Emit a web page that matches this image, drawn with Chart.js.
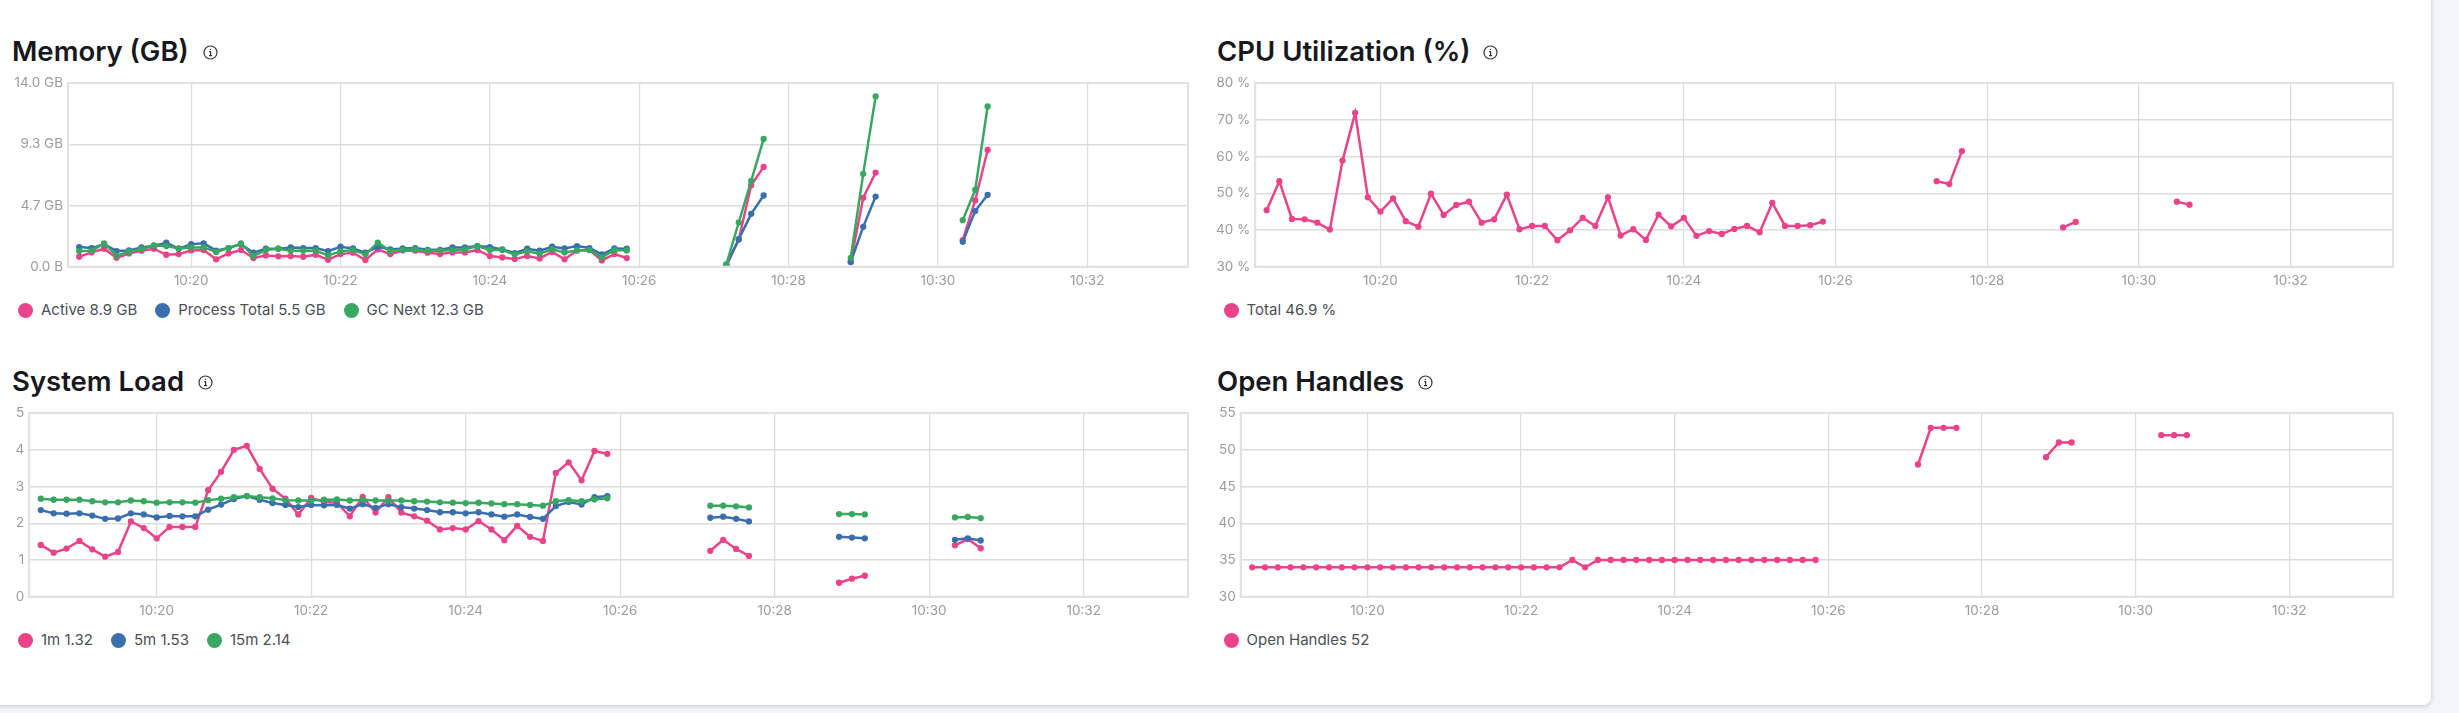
<!DOCTYPE html>
<html>
<head>
<meta charset="utf-8">
<title>Runtime metrics</title>
<script src="https://cdn.jsdelivr.net/npm/chart.js@4"></script>
<style>
  html, body { margin: 0; height: 100%; overflow: hidden; background: #f4f5fa; font-family: Inter, sans-serif; }
  #card { position: absolute; left: -20px; top: -20px; width: 2451px; height: 725px; background: #fff; border-radius: 8px; box-shadow: 0 1px 5px rgba(60,70,100,.25); }
  .title { position: absolute; font-size: 27.5px; font-weight: 600; color: #16181d; line-height: 30px; white-space: nowrap; }
  .info { position: absolute; width: 15px; height: 15px; }
  .legend { position: absolute; display: flex; font-size: 15px; color: #4b4f57; line-height: 16px; white-space: nowrap; }
  .legend span { display: flex; align-items: center; margin-right: 18px; }
  .legend i { width: 15px; height: 15px; border-radius: 50%; margin-right: 8px; }
  canvas { position: absolute; }
</style>
</head>
<body>
<div id="card"></div>
<script>
// sample times, the 10:26:00 / 10:28:00 / 10:30:00 rows are gaps in the scrape
const times = [
  '10:18:30','10:18:40','10:18:50','10:19:00','10:19:10','10:19:20','10:19:30','10:19:40','10:19:50',
  '10:20:00','10:20:10','10:20:20','10:20:30','10:20:40','10:20:50','10:21:00','10:21:10','10:21:20','10:21:30','10:21:40','10:21:50',
  '10:22:00','10:22:10','10:22:20','10:22:30','10:22:40','10:22:50','10:23:00','10:23:10','10:23:20','10:23:30','10:23:40','10:23:50',
  '10:24:00','10:24:10','10:24:20','10:24:30','10:24:40','10:24:50','10:25:00','10:25:10','10:25:20','10:25:30','10:25:40','10:25:50',
  '10:26:00',
  '10:27:10','10:27:20','10:27:30','10:27:40',
  '10:28:00',
  '10:28:50','10:29:00','10:29:10',
  '10:30:00',
  '10:30:20','10:30:30','10:30:40'
];

const memActive = [0.76,1.09,1.37,0.68,1.01,1.22,1.37,0.91,0.96,1.24,1.27,0.56,1.01,1.27,0.66,0.86,0.79,0.81,0.76,0.91,0.53,0.96,1.07,0.51,1.32,0.96,1.24,1.22,1.07,0.96,1.09,1.09,1.27,0.81,0.71,0.58,0.81,0.63,1.12,0.56,1.24,1.27,0.48,0.96,0.66,
  null, 0.05,2.08,6.21,7.61, null, 0.36,5.25,7.18, null, 2.03,5.05,8.90];
const memProcess = [1.50,1.42,1.72,1.19,1.24,1.47,1.60,1.83,1.37,1.72,1.78,1.22,1.42,1.72,1.07,1.37,1.37,1.47,1.42,1.42,1.19,1.52,1.39,1.07,1.52,1.32,1.39,1.42,1.29,1.29,1.47,1.47,1.57,1.50,1.32,1.04,1.37,1.22,1.52,1.39,1.57,1.42,0.94,1.39,1.37,
  null, 0.13,2.10,4.03,5.43, null, 0.36,3.04,5.35, null, 1.90,4.24,5.48];
const memGcNext = [1.19,1.22,1.78,0.84,1.14,1.34,1.62,1.57,1.39,1.47,1.47,1.12,1.42,1.78,0.81,1.27,1.37,1.22,1.22,1.22,0.86,1.17,1.27,0.94,1.83,1.19,1.29,1.32,1.22,1.22,1.27,1.32,1.57,1.27,1.27,0.94,1.17,0.99,1.32,1.09,1.24,1.27,0.71,1.27,1.24,
  null, 0.18,3.37,6.54,9.74, null, 0.68,7.08,12.98, null, 3.55,5.86,12.22];

const cpuTotal = [45.4,53.3,43.0,42.9,42.0,40.1,58.9,71.9,48.9,45.0,48.6,42.4,40.9,49.9,44.1,46.8,47.7,42.0,42.9,49.6,40.2,41.1,41.1,37.2,39.9,43.3,41.1,48.9,38.5,40.2,37.3,44.2,41.0,43.3,38.4,39.7,38.9,40.3,41.1,39.4,47.4,41.1,41.1,41.3,42.3,
  null, null,53.3,52.5,61.5, null, null,40.7,42.2, null, null,47.7,46.9];

const load1m = [1.41,1.20,1.31,1.52,1.29,1.09,1.22,2.05,1.87,1.59,1.90,1.90,1.90,2.90,3.40,4.00,4.11,3.48,2.94,2.67,2.24,2.69,2.58,2.56,2.19,2.72,2.29,2.71,2.29,2.19,2.07,1.83,1.87,1.83,2.06,1.83,1.54,1.93,1.63,1.52,3.37,3.66,3.17,3.97,3.89,
  null, 1.25,1.55,1.30,1.11, null, 0.38,0.49,0.57, null, 1.40,1.57,1.32];
const load5m = [2.36,2.27,2.26,2.27,2.21,2.12,2.13,2.27,2.24,2.16,2.20,2.19,2.19,2.37,2.51,2.66,2.74,2.64,2.55,2.50,2.44,2.50,2.49,2.50,2.40,2.52,2.42,2.52,2.44,2.40,2.36,2.30,2.30,2.27,2.30,2.24,2.18,2.24,2.17,2.12,2.47,2.58,2.51,2.71,2.74,
  null, 2.15,2.18,2.12,2.05, null, 1.63,1.61,1.59, null, 1.55,1.59,1.53];
const load15m = [2.67,2.64,2.64,2.64,2.60,2.57,2.57,2.62,2.60,2.56,2.57,2.57,2.56,2.63,2.67,2.71,2.74,2.71,2.68,2.63,2.62,2.62,2.64,2.65,2.62,2.64,2.62,2.62,2.62,2.60,2.59,2.57,2.56,2.55,2.56,2.54,2.52,2.52,2.50,2.48,2.60,2.63,2.60,2.65,2.68,
  null, 2.48,2.48,2.46,2.43, null, 2.25,2.25,2.24, null, 2.16,2.17,2.14];

const openHandles = [34,34,34,34,34,34,34,34,34,34,34,34,34,34,34,34,34,34,34,34,34,34,34,34,34,35,34,35,35,35,35,35,35,35,35,35,35,35,35,35,35,35,35,35,35,
  null, 48,53,53,53, null, 49,51,51, null, 52,52,52];

const memTicks = [0, 14 / 3, 28 / 3, 14];
const cpuTicks = [30, 40, 50, 60, 70, 80];
const loadTicks = [0, 1, 2, 3, 4, 5];
const handleTicks = [30, 35, 40, 45, 50, 55];

const pink = '#ea4389', blue = '#3a6fad', green = '#38a861';

function toSec(t) {
  const p = t.split(':').map(Number);
  return p[0] * 3600 + p[1] * 60 + (p[2] || 0);
}

function pad(n) { return String(n).padStart(2, '0'); }

function addText(cls, text, x, y) {
  const el = document.createElement('div');
  el.className = cls;
  el.textContent = text;
  el.style.left = x + 'px';
  el.style.top = y + 'px';
  document.body.appendChild(el);
}

function addInfo(x, y) {
  const el = document.createElement('div');
  el.className = 'info';
  el.style.left = (x - 7.5) + 'px';
  el.style.top = (y - 7.5) + 'px';
  el.innerHTML = '<svg width="15" height="15" viewBox="0 0 15 15" fill="none" stroke="#33363c"><circle cx="7.5" cy="7.5" r="6.5" stroke-width="1.2"/><path d="M6.2 6.6h1.4v3.8M6 10.6h3.1" stroke-width="1.2"/><circle cx="7.4" cy="4.4" r=".7" fill="#33363c" stroke="none"/></svg>';
  document.body.appendChild(el);
}

function addLegend(items, x, y) {
  const el = document.createElement('div');
  el.className = 'legend';
  el.style.left = x + 'px';
  el.style.top = y + 'px';
  items.forEach(it => {
    const s = document.createElement('span');
    const dot = document.createElement('i');
    dot.style.background = it[1];
    s.appendChild(dot);
    s.appendChild(document.createTextNode(it[0]));
    el.appendChild(s);
  });
  document.body.appendChild(el);
}

function addChart(left, top, width, yWidth, series, yTicks, yLabel) {
  const canvas = document.createElement('canvas');
  canvas.style.left = left + 'px';
  canvas.style.top = top + 'px';
  canvas.style.width = width + 'px';
  canvas.style.height = '230px';
  canvas.width = width;
  canvas.height = 230;
  document.body.appendChild(canvas);

  new Chart(canvas.getContext('2d'), {
    type: 'line',
    data: {
      datasets: series.map((s, idx) => ({
        data: times.map((t, i) => ({ x: toSec(t), y: s[0][i] })),
        borderColor: s[1],
        backgroundColor: s[1],
        borderWidth: 2.5,
        pointRadius: 1.9,
        pointHoverRadius: 3,
        tension: 0,
        spanGaps: false,
        order: -idx, // later series sit on top
      })),
    },
    options: {
      responsive: false,
      animation: false,
      layout: { padding: { top: 12.7, right: 12, bottom: 0, left: 0 } },
      plugins: { legend: { display: false }, tooltip: { enabled: false } },
      scales: {
        x: {
          type: 'linear',
          min: toSec('10:18:21'),
          max: toSec('10:33:21'),
          afterFit: scale => { scale.height = 33.3; },
          border: { color: '#e2e2e2', width: 2 },
          grid: { color: '#dcdcdc', lineWidth: 1.2, drawTicks: false },
          ticks: {
            stepSize: 120,
            includeBounds: false,
            autoSkip: false,
            maxRotation: 0,
            padding: 6,
            color: '#9b9b9b',
            font: { family: 'Inter', size: 13.5 },
            callback: v => pad(Math.floor(v / 3600)) + ':' + pad(Math.floor(v / 60) % 60),
          },
        },
        y: {
          min: yTicks[0],
          max: yTicks[yTicks.length - 1],
          afterFit: scale => { scale.width = yWidth; },
          afterBuildTicks: scale => { scale.ticks = yTicks.map(v => ({ value: v })); },
          border: { color: '#e2e2e2', width: 2 },
          grid: { color: '#dcdcdc', lineWidth: 1.5, drawTicks: false },
          ticks: {
            padding: 5,
            color: '#9b9b9b',
            font: { family: 'Inter', size: 13.5 },
            callback: yLabel,
          },
        },
      },
    },
    plugins: [{
      // right and top edges of the plot box
      id: 'frame',
      afterDatasetsDraw(chart) {
        const a = chart.chartArea, c = chart.ctx;
        c.save();
        c.strokeStyle = '#e2e2e2';
        c.lineWidth = 2;
        c.strokeRect(a.left, a.top, a.right - a.left, a.bottom - a.top);
        c.restore();
      },
    }],
  });
}

addText('title', 'Memory (GB)', 12, 36);
addInfo(210, 51);
addChart(0, 70, 1200, 68, [[memActive, pink], [memProcess, blue], [memGcNext, green]], memTicks,
  v => (v === 0 ? '0.0 B' : v.toFixed(1) + ' GB'));
addLegend([['Active 8.9 GB', pink], ['Process Total 5.5 GB', blue], ['GC Next 12.3 GB', green]], 18, 302);

addText('title', 'CPU Utilization (%)', 1217, 36);
addInfo(1490, 51);
addChart(1200, 70, 1205, 55.3, [[cpuTotal, pink]], cpuTicks, v => v + ' %');
addLegend([['Total 46.9 %', pink]], 1223.5, 302);

addText('title', 'System Load', 12, 366);
addInfo(205, 381);
addChart(0, 400, 1200, 29.2, [[load1m, pink], [load5m, blue], [load15m, green]], loadTicks, v => String(v));
addLegend([['1m 1.32', pink], ['5m 1.53', blue], ['15m 2.14', green]], 18, 632);

addText('title', 'Open Handles', 1217, 366);
addInfo(1425, 381);
addChart(1200, 400, 1205, 40.7, [[openHandles, pink]], handleTicks, v => String(v));
addLegend([['Open Handles 52', pink]], 1223.5, 632);
</script>
</body>
</html>
